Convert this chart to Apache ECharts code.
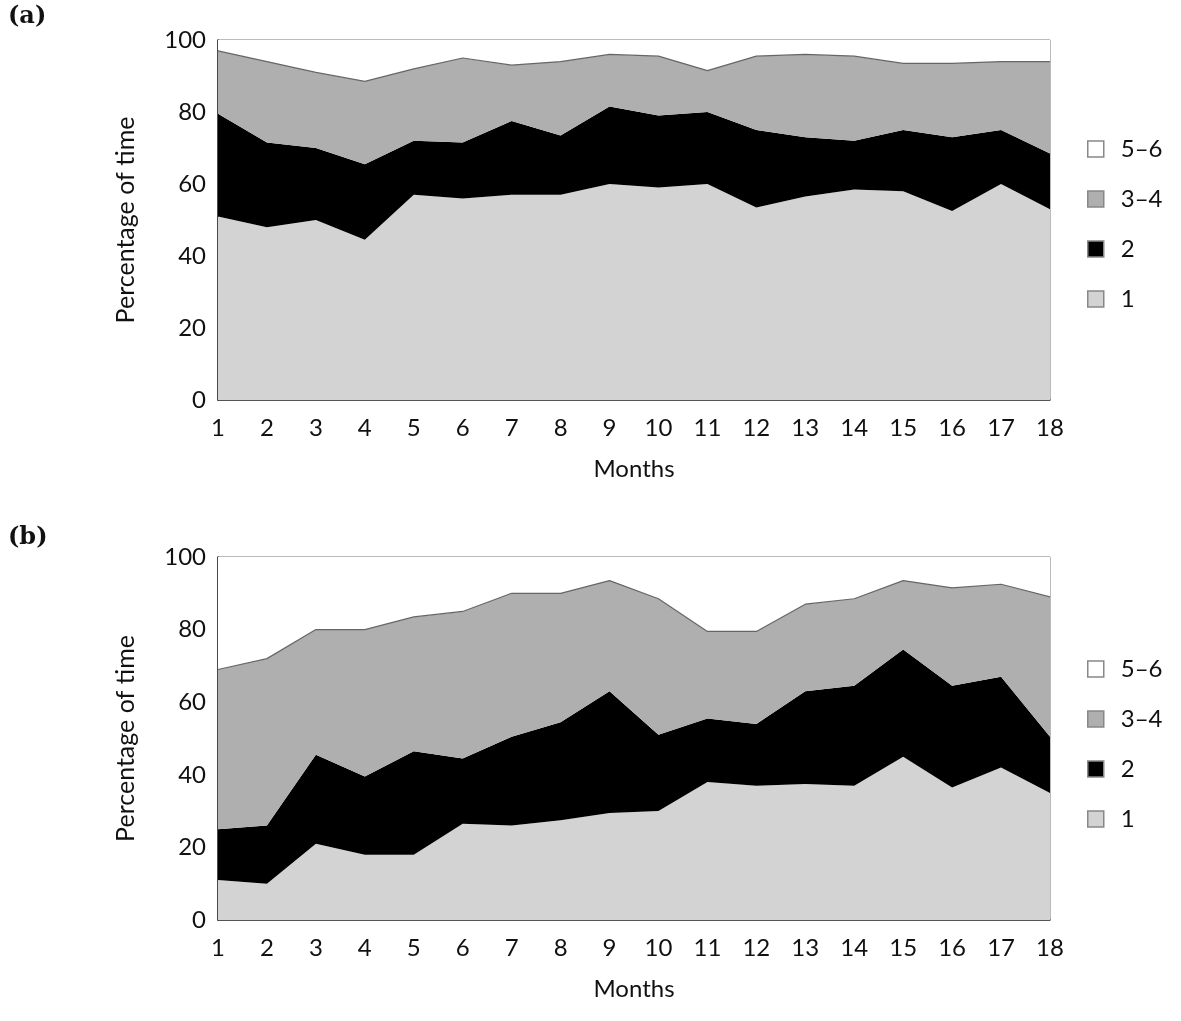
<!DOCTYPE html>
<html>
<head>
<meta charset="utf-8">
<script src="https://cdn.jsdelivr.net/npm/echarts@6/dist/echarts.min.js"></script>
<style>html,body{margin:0;padding:0;background:#fff}#c{width:1181px;height:1021px}</style>
</head>
<body>
<div id="c"></div>
<script>
const months = ['1','2','3','4','5','6','7','8','9','10','11','12','13','14','15','16','17','18'];
const yTicks = [0, 20, 40, 60, 80, 100];
const seriesNames = ['1', '2', '3–4', '5–6'];

// Panel (a)
const a_1  = [51, 48, 50, 44.5, 57, 56, 57, 57, 60, 59, 60, 53.5, 56.5, 58.5, 58, 52.5, 60, 53];
const a_2  = [28.5, 23.5, 20, 21, 15, 15.5, 20.5, 16.5, 21.5, 20, 20, 21.5, 16.5, 13.5, 17, 20.5, 15, 15.5];
const a_34 = [17.5, 22.5, 21, 23, 20, 23.5, 15.5, 20.5, 14.5, 16.5, 11.5, 20.5, 23, 23.5, 18.5, 20.5, 19, 25.5];
const a_56 = [3, 6, 9, 11.5, 8, 5, 7, 6, 4, 4.5, 8.5, 4.5, 4, 4.5, 6.5, 6.5, 6, 6];

// Panel (b)
const b_1  = [11, 10, 21, 18, 18, 26.5, 26, 27.5, 29.5, 30, 38, 37, 37.5, 37, 45, 36.5, 42, 35];
const b_2  = [14, 16, 24.5, 21.5, 28.5, 18, 24.5, 27, 33.5, 21, 17.5, 17, 25.5, 27.5, 29.5, 28, 25, 15.5];
const b_34 = [44, 46, 34.5, 40.5, 37, 40.5, 39.5, 35.5, 30.5, 37.5, 24, 25.5, 24, 24, 19, 27, 25.5, 38.5];
const b_56 = [31, 28, 20, 20, 16.5, 15, 10, 10, 6.5, 11.5, 20.5, 20.5, 13, 11.5, 6.5, 8.5, 7.5, 11];

const colors = {'1': '#d3d3d3', '2': '#000000', '3–4': '#afafaf', '5–6': '#ffffff'};
const FONT = 'Lato';

const chart = echarts.init(document.getElementById('c'), null, {renderer: 'canvas'});

function mkSeries(panel, vals) {
  return seriesNames.map((n, i) => ({
    name: n,
    type: 'line',
    stack: 'p' + panel,
    xAxisIndex: panel,
    yAxisIndex: panel,
    data: vals[i],
    symbol: 'none',
    smooth: false,
    lineStyle: n === '3–4' ? {width: 1.2, color: '#666'} : {width: 0, color: colors[n]},
    itemStyle: {color: colors[n]},
    areaStyle: {color: colors[n], opacity: 1},
    silent: true,
    z: 2
  }));
}

const gridTops = [40, 557];
const gridBottoms = [1021 - 400, 1021 - 920];

function mkX(i) {
  return {
    type: 'category', gridIndex: i, data: months, boundaryGap: false,
    axisLine: {show: true, lineStyle: {color: '#333', width: 1.5}},
    axisTick: {show: false},
    axisLabel: {fontFamily: FONT, fontSize: 24, color: '#111', margin: 16},
    name: 'Months', nameLocation: 'middle', nameGap: 57,
    nameTextStyle: {fontFamily: FONT, fontSize: 24, color: '#111'},
    splitLine: {show: false}
  };
}
function mkY(i) {
  return {
    type: 'value', gridIndex: i, min: 0, max: 100, interval: 20,
    axisLine: {show: true, lineStyle: {color: '#222', width: 1.5}},
    axisTick: {show: false},
    axisLabel: {fontFamily: FONT, fontSize: 24, color: '#111', margin: 12},
    name: 'Percentage of time', nameLocation: 'middle', nameGap: 80,
    nameTextStyle: {fontFamily: FONT, fontSize: 25, color: '#111'},
    splitLine: {show: false}
  };
}
function mkLegend(top) {
  return {
    orient: 'vertical', left: 1082, top: top, itemWidth: 16, itemHeight: 16,
    itemGap: 26, icon: 'rect',
    data: ['5–6', '3–4', '2', '1'].map(n => ({name: n, itemStyle: {color: colors[n], borderColor: '#888', borderWidth: 1.5}})),
    textStyle: {fontFamily: FONT, fontSize: 24, color: '#111', padding: [0, 0, 0, 12]},
    selectedMode: false
  };
}

chart.setOption({
  animation: false,
  backgroundColor: '#fff',
  grid: [0, 1].map(i => ({left: 218, right: 131, top: gridTops[i], bottom: gridBottoms[i], show: true, borderColor: '#777', borderWidth: 1, backgroundColor: 'transparent'})),
  xAxis: [mkX(0), mkX(1)],
  yAxis: [mkY(0), mkY(1)],
  legend: [mkLegend(132), mkLegend(652)],
  series: [...mkSeries(0, [a_1, a_2, a_34, a_56]), ...mkSeries(1, [b_1, b_2, b_34, b_56])],
  graphic: [
    {type: 'text', left: 8, top: 5, style: {text: '(a)', font: 'bold 24px "DejaVu Serif", serif', fill: '#111'}},
    {type: 'text', left: 8, top: 526, style: {text: '(b)', font: 'bold 24px "DejaVu Serif", serif', fill: '#111'}}
  ]
});
</script>
</body>
</html>
